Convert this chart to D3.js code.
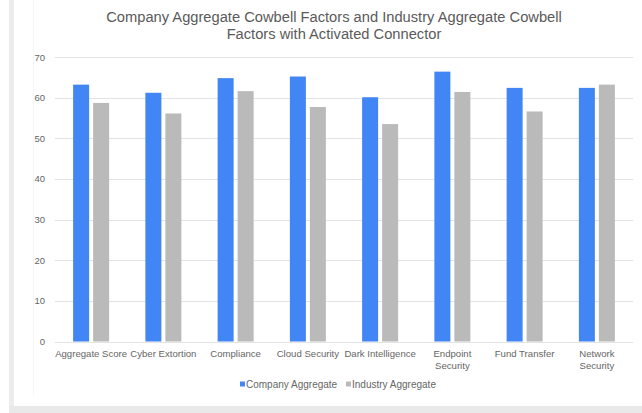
<!DOCTYPE html>
<html><head><meta charset="utf-8">
<script src="https://cdn.jsdelivr.net/npm/d3@7"></script>
<style>html,body{margin:0;padding:0;background:#fff;}svg{display:block;}</style>
</head><body>
<script>
const categories = [["Aggregate Score"],["Cyber Extortion"],["Compliance"],["Cloud Security"],["Dark Intelligence"],["Endpoint","Security"],["Fund Transfer"],["Network","Security"]];
const seriesNames = ["Company Aggregate","Industry Aggregate"];
const companyValues = [63.2, 61.2, 64.8, 65.2, 60.1, 66.4, 62.4, 62.4];
const industryValues = [58.7, 56.1, 61.6, 57.7, 53.5, 61.4, 56.6, 63.2];
const yTicks = [0,10,20,30,40,50,60,70];
const titleLines = ["Company Aggregate Cowbell Factors and Industry Aggregate Cowbell","Factors with Activated Connector"];
const colors = ["#4285f4","#bababa"];

const W = 642, H = 413;
const svg = d3.select("body").append("svg").attr("width", W).attr("height", H);

// card frame
svg.append("rect").attr("x",9).attr("y",0).attr("width",5).attr("height",H).attr("fill","#ececec");
svg.append("rect").attr("x",9).attr("y",406).attr("width",W-9).attr("height",7).attr("fill","#e9e9e9");
svg.append("line").attr("x1",33.5).attr("x2",33.5).attr("y1",0).attr("y2",396).attr("stroke","#f6f6f6");

const font = "'Liberation Sans', Arial, sans-serif";
const x0 = d3.scaleBand().domain(d3.range(categories.length)).range([55, 633]);
const y = d3.scaleLinear().domain([0,70]).range([341.5, 57]);

svg.append("g").selectAll("text").data(titleLines).join("text")
  .attr("x", 334).attr("y", (d,i)=>22+i*16.5).attr("text-anchor","middle")
  .attr("font-family",font).attr("font-size",14.7).attr("fill","#5a5a5a").text(d=>d);

// grid
svg.append("g").selectAll("line").data(yTicks).join("line")
  .attr("x1",55).attr("x2",633).attr("y1",d=>Math.round(y(d))+0.5).attr("y2",d=>Math.round(y(d))+0.5)
  .attr("stroke","#e3e3e3");
svg.append("g").selectAll("text").data(yTicks).join("text")
  .attr("x",45).attr("y",d=>y(d)+3.5).attr("text-anchor","end")
  .attr("font-family",font).attr("font-size",9.5).attr("fill","#666").text(d=>d);

const series = [companyValues, industryValues];
series.forEach((vals, s) => {
  svg.append("g").selectAll("rect").data(vals).join("rect")
    .attr("x",(d,i)=> x0(i) + x0.bandwidth()/2 + (s===0 ? -18 : 2))
    .attr("width",16)
    .attr("y",d=>y(d)).attr("height",d=>y(0)-y(d))
    .attr("fill",colors[s]);
});

// x labels
const xl = svg.append("g").selectAll("text").data(categories).join("text")
  .attr("x",(d,i)=>x0(i)+x0.bandwidth()/2).attr("y",357).attr("text-anchor","middle")
  .attr("font-family",font).attr("font-size",9.6).attr("fill","#666");
xl.selectAll("tspan").data(d=>d).join("tspan")
  .attr("x",function(){return this.parentNode.getAttribute("x");})
  .attr("dy",(d,i)=>i===0?0:11.5).text(d=>d);

// legend
const leg = [{x:240},{x:346}];
seriesNames.forEach((n,i)=>{
  svg.append("rect").attr("x",leg[i].x).attr("y",381.5).attr("width",5).attr("height",5).attr("fill",colors[i]);
  svg.append("text").attr("x",leg[i].x+6).attr("y",388).attr("font-family",font).attr("font-size",10)
    .attr("fill","#666").text(n);
});
</script>
</body></html>
